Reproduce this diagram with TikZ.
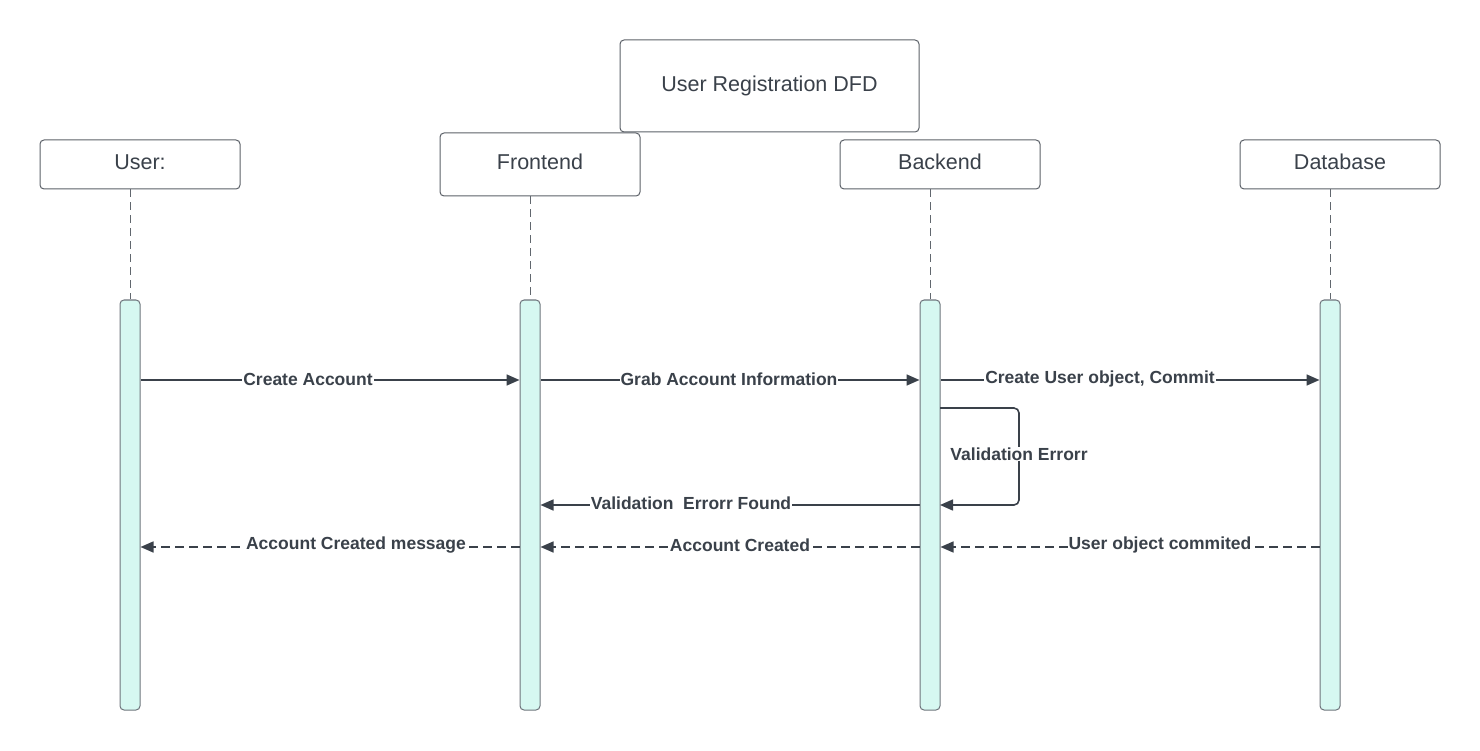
\documentclass[tikz,border=0pt]{standalone}
\usepackage{fontspec}
\setmainfont{Liberation Sans}
\usetikzlibrary{arrows.meta}
\definecolor{ink}{HTML}{3A414A}
\definecolor{boxline}{HTML}{5C6168}
\definecolor{actfill}{HTML}{D6F8F1}
\definecolor{actline}{HTML}{6E757C}
\tikzset{
  hdr/.style={draw=boxline, line width=1pt, rounded corners=4pt, fill=white, text=ink,
     font=\fontsize{21.5}{24}\selectfont, inner sep=0pt, text height=15pt, text depth=4pt},
  act/.style={draw=actline, line width=1pt, rounded corners=4pt, fill=actfill},
  life/.style={draw=ink!80, line width=0.8pt, dash pattern=on 8pt off 5pt},
  msg/.style={draw=ink, line width=1.6pt, -{Triangle[length=13pt,width=11pt]}},
  ret/.style={msg, dash pattern=on 9pt off 5pt},
  lbl/.style={fill=white, text=ink, font=\bfseries\fontsize{17.5}{20}\selectfont, inner sep=1pt}
}
\begin{document}
\begin{tikzpicture}[x=1pt,y=-1pt]
\useasboundingbox (0,0) rectangle (1480,751);
% title
\node[hdr, minimum width=299pt, minimum height=92pt] (title) at (769.5,86) {User Registration DFD};
% headers
\node[hdr, minimum width=200pt, minimum height=49pt] (user) at (140,164.5) {User:};
\node[hdr, minimum width=200pt, minimum height=63pt, text depth=5pt] (front) at (540,164.5) {Frontend};
\node[hdr, minimum width=200pt, minimum height=49pt] (back) at (940,164.5) {Backend};
\node[hdr, minimum width=200pt, minimum height=49pt] (db) at (1340,164.5) {Database};
% activation bars
\node[act, minimum width=20pt, minimum height=410pt, inner sep=0pt] (au) at (130,505) {};
\node[act, minimum width=20pt, minimum height=410pt, inner sep=0pt] (af) at (530,505) {};
\node[act, minimum width=20pt, minimum height=410pt, inner sep=0pt] (ab) at (930,505) {};
\node[act, minimum width=20pt, minimum height=410pt, inner sep=0pt] (ad) at (1330,505) {};
% lifelines
\draw[life] (user.south -| au.north) -- (au.north);
\draw[life] (front.south -| af.north) -- (af.north);
\draw[life] (back.south -| ab.north) -- (ab.north);
\draw[life] (db.south -| ad.north) -- (ad.north);
% messages
\coordinate (y1) at (0,380);
\coordinate (y2) at (0,505);
\coordinate (y3) at (0,547);
\draw[msg] (au.east |- y1) -- (af.west |- y1);
\node[lbl] (l1) at (308,379) {Create Account};
\draw[msg] (af.east |- y1) -- (ab.west |- y1);
\node[lbl] (l2) at (729,379) {Grab Account Information};
\draw[msg] (ab.east |- y1) -- (ad.west |- y1);
\node[lbl] (l3) at (1100,379) {Create User object, Commit};
% self loop
\coordinate (s1) at (940,408);
\coordinate (s2) at (940,505);
\draw[msg, rounded corners=5pt] (s1) -- (1019,408) -- (1019,505) -- (s2);
\node[lbl] (l4) at (1019,454) {Validation Errorr};
% validation error found
\draw[msg] (ab.west |- y2) -- (af.east |- y2);
\node[lbl] (l5) at (691,503) {Validation\ \ Errorr Found};
% returns
\draw[ret] (ad.west |- y3) -- (ab.east |- y3);
\node[lbl] (l6) at (1160,545) {User object commited};
\draw[ret] (ab.west |- y3) -- (af.east |- y3);
\node[lbl] (l7) at (740,545) {Account Created};
\draw[ret] (af.west |- y3) -- (au.east |- y3);
\node[lbl] (l8) at (356,545) {Account Created message};
\end{tikzpicture}
\end{document}
